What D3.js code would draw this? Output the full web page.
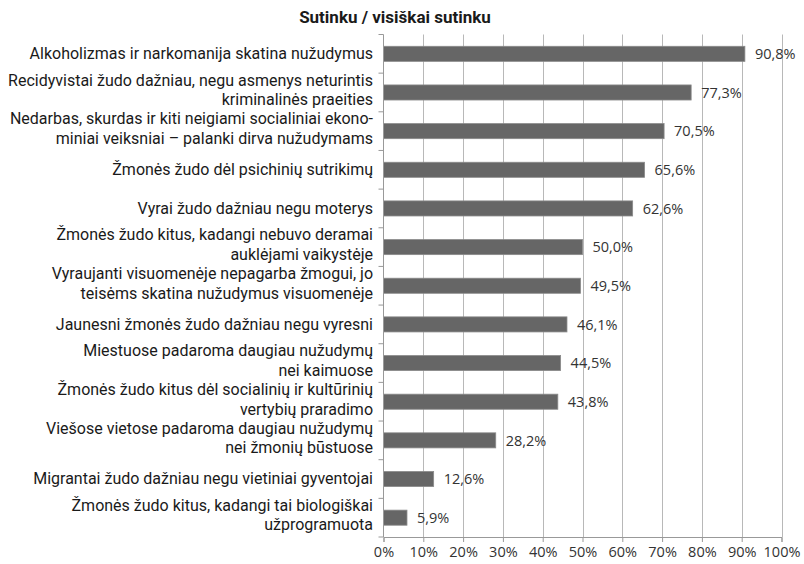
<!DOCTYPE html>
<html>
<head>
<meta charset="utf-8">
<script src="https://cdn.jsdelivr.net/npm/d3@7"></script>
<style>
  html, body { margin: 0; padding: 0; background: #fff; }
  svg { display: block; }
</style>
</head>
<body>
<svg id="chart" width="804" height="564"></svg>
<script>
const title = "Sutinku / visiškai sutinku";
const categories = [
  ["Alkoholizmas ir narkomanija skatina nužudymus"],
  ["Recidyvistai  žudo dažniau, negu asmenys neturintis", "kriminalinės praeities"],
  ["Nedarbas, skurdas ir kiti neigiami socialiniai ekono-", "miniai veiksniai – palanki dirva nužudymams"],
  ["Žmonės žudo dėl psichinių sutrikimų"],
  ["Vyrai žudo dažniau negu moterys"],
  ["Žmonės žudo kitus, kadangi nebuvo deramai", "auklėjami vaikystėje"],
  ["Vyraujanti visuomenėje nepagarba žmogui, jo", "teisėms skatina nužudymus visuomenėje"],
  ["Jaunesni žmonės žudo dažniau negu vyresni"],
  ["Miestuose padaroma daugiau nužudymų", "nei kaimuose"],
  ["Žmonės žudo kitus dėl socialinių ir kultūrinių", "vertybių praradimo"],
  ["Viešose vietose padaroma daugiau nužudymų", "nei žmonių būstuose"],
  ["Migrantai  žudo dažniau negu vietiniai gyventojai"],
  ["Žmonės žudo kitus, kadangi tai biologiškai", "užprogramuota"]
];
const values = [90.8, 77.3, 70.5, 65.6, 62.6, 50.0, 49.5, 46.1, 44.5, 43.8, 28.2, 12.6, 5.9];
const valueLabels = ["90,8%", "77,3%", "70,5%", "65,6%", "62,6%", "50,0%", "49,5%", "46,1%", "44,5%", "43,8%", "28,2%", "12,6%", "5,9%"];
const xTicks = [0, 10, 20, 30, 40, 50, 60, 70, 80, 90, 100];

(function () {
const svg = d3.select("#chart");
const pLeft = 383.5, pRight = 781.5, pTop = 34.5, pBottom = 537;
const ids = d3.range(values.length);

const x = d3.scaleLinear().domain([0, 100]).range([pLeft, pRight]);
const y = d3.scaleBand().domain(ids).range([pTop, pBottom]).paddingInner(0.61).paddingOuter(0.305);
const yb = d3.scaleBand().domain(ids).range([pTop, pBottom]);

const labelFont = "Roboto, 'Open Sans', sans-serif";
const numFont = "'Open Sans', 'Noto Sans', sans-serif";

// title
svg.append("text")
  .attr("x", 395).attr("y", 22.5)
  .attr("text-anchor", "middle")
  .attr("font-family", labelFont)
  .attr("font-weight", "bold")
  .attr("font-size", 17)
  .attr("fill", "#1a1a1a")
  .text(title);

// gridlines
svg.append("g").selectAll("line")
  .data(xTicks.filter(d => d > 0))
  .join("line")
  .attr("x1", d => Math.round(x(d)) + 0.5).attr("x2", d => Math.round(x(d)) + 0.5)
  .attr("y1", pTop).attr("y2", pBottom)
  .attr("stroke", "#b8b8b8").attr("stroke-width", 1);

// bars
svg.append("g").selectAll("rect")
  .data(ids)
  .join("rect")
  .attr("x", x(0))
  .attr("y", i => y(i))
  .attr("width", i => x(values[i]) - x(0))
  .attr("height", y.bandwidth())
  .attr("fill", "#666666")
  .attr("stroke", "#8a8a8a")
  .attr("stroke-width", 0.8);

// value labels
svg.append("g").selectAll("text")
  .data(ids)
  .join("text")
  .attr("x", i => x(values[i]) + 10)
  .attr("y", i => y(i) + y.bandwidth() / 2)
  .attr("dy", "0.36em")
  .attr("font-family", numFont)
  .attr("font-size", 14.5)
  .attr("fill", "#333")
  .text(i => valueLabels[i]);

// x axis
const xAxis = d3.axisBottom(x).tickValues(xTicks).tickFormat(d => d + "%").tickSizeOuter(0).tickSize(5).tickPadding(5);
const gx = svg.append("g").attr("transform", `translate(0,${pBottom})`).call(xAxis);
gx.select(".domain").attr("stroke", "#999");
gx.selectAll(".tick line").attr("stroke", "#999");
gx.selectAll(".tick text").attr("font-family", numFont).attr("font-size", 14.5).attr("fill", "#333");

// y axis line + category boundary ticks
svg.append("line")
  .attr("x1", pLeft).attr("x2", pLeft).attr("y1", pTop).attr("y2", pBottom)
  .attr("stroke", "#999");
svg.append("g").selectAll("line")
  .data(ids.concat([values.length]))
  .join("line")
  .attr("x1", pLeft - 5).attr("x2", pLeft)
  .attr("y1", i => (i < values.length ? yb(i) : pBottom))
  .attr("y2", i => (i < values.length ? yb(i) : pBottom))
  .attr("stroke", "#999");

// category labels
const lab = svg.append("g").selectAll("text")
  .data(ids)
  .join("text")
  .attr("text-anchor", "end")
  .attr("font-family", labelFont)
  .attr("font-size", 16)
  .attr("fill", "#1a1a1a")
  .attr("y", i => yb(i) + yb.bandwidth() / 2);
lab.each(function (i) {
  const lines = categories[i];
  const n = lines.length;
  d3.select(this).selectAll("tspan")
    .data(lines)
    .join("tspan")
    .attr("x", 373)
    .attr("dy", (d, k) => k === 0 ? (n > 1 ? "-0.42em" : "0.32em") : "1.22em")
    .text(d => d);
});
})();
</script>
</body>
</html>
